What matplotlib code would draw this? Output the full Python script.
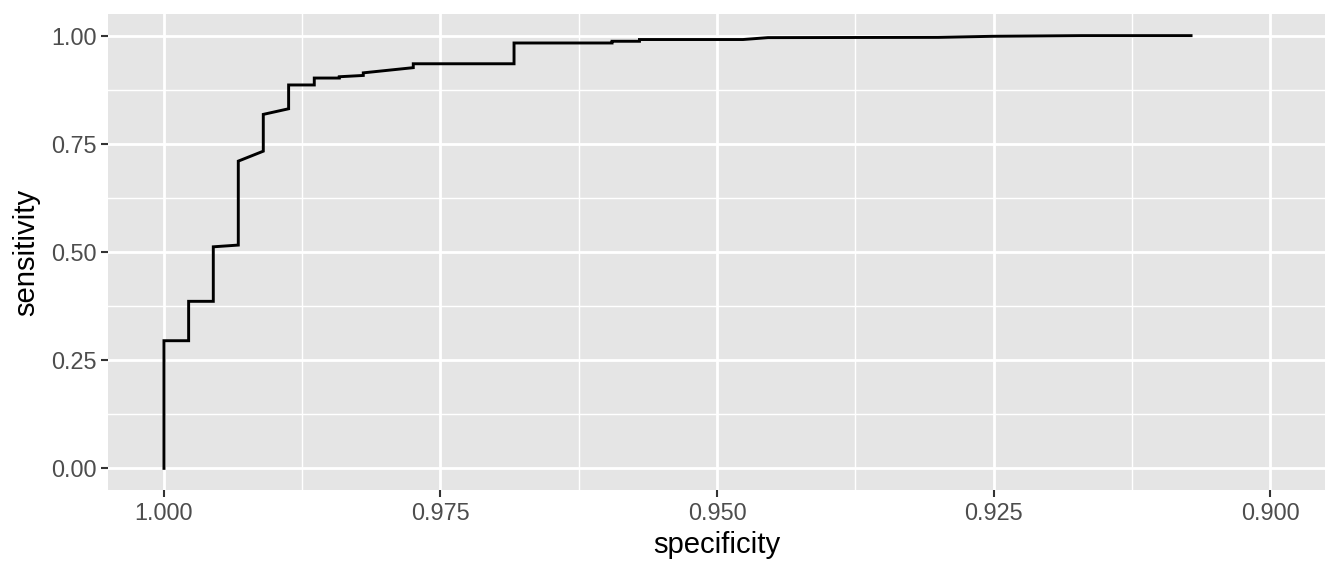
import matplotlib
matplotlib.use("Agg")
import matplotlib.pyplot as plt
import numpy as np

# ROC curve points (specificity, sensitivity)
specificity = [1.0, 1.0, 0.99777, 0.99777, 0.99554, 0.99554, 0.99328, 0.99328,
               0.99102, 0.99102, 0.98873, 0.98873, 0.98641, 0.98641, 0.98415,
               0.98415, 0.98198, 0.98198, 0.97746, 0.97746, 0.96835, 0.96835,
               0.95949, 0.95949, 0.95701, 0.95701, 0.94765, 0.94540, 0.93000,
               0.92500, 0.91700, 0.90714]
sensitivity = [0.0, 0.295, 0.295, 0.386, 0.386, 0.512, 0.516, 0.710,
               0.733, 0.818, 0.831, 0.886, 0.886, 0.902, 0.902,
               0.905, 0.908, 0.914, 0.926, 0.935, 0.935, 0.983,
               0.983, 0.987, 0.987, 0.991, 0.991, 0.9954, 0.9960,
               0.9985, 1.0, 1.0]

x_ticks = [1.000, 0.975, 0.950, 0.925, 0.900]
x_labels = ["1.000", "0.975", "0.950", "0.925", "0.900"]
y_ticks = [0.00, 0.25, 0.50, 0.75, 1.00]
y_labels = ["0.00", "0.25", "0.50", "0.75", "1.00"]

plt.rcParams["font.family"] = ["Liberation Sans", "DejaVu Sans"]

fig = plt.figure(figsize=(13.44, 5.76), dpi=100)
ax = fig.add_axes([108 / 1344, 1 - 490 / 576, (1325 - 108) / 1344, (490 - 14) / 576])
ax.set_facecolor("#E5E5E5")

# grid
for v in [0.9875, 0.9625, 0.9375, 0.9125]:
    ax.axvline(v, color="white", lw=1.0, zorder=0)
for v in [0.125, 0.375, 0.625, 0.875]:
    ax.axhline(v, color="white", lw=1.0, zorder=0)
for v in x_ticks:
    ax.axvline(v, color="white", lw=2.0, zorder=0)
for v in y_ticks:
    ax.axhline(v, color="white", lw=2.0, zorder=0)

ax.plot(specificity, sensitivity, color="black", lw=2.1, solid_joinstyle="miter", zorder=2)

ax.set_xlim(1.00506, 0.89503)
ax.set_ylim(-0.05, 1.05)
ax.set_xticks(x_ticks)
ax.set_xticklabels(x_labels)
ax.set_yticks(y_ticks)
ax.set_yticklabels(y_labels)

for s in ax.spines.values():
    s.set_visible(False)
ax.tick_params(axis="both", colors="#333333", length=5.3, width=1.5,
               labelsize=16.9, labelcolor="#4D4D4D", pad=3)

ax.set_xlabel("specificity", fontsize=21.1, labelpad=5)
ax.set_ylabel("sensitivity", fontsize=21.1, labelpad=8)

fig.savefig("out.png", dpi=100)
